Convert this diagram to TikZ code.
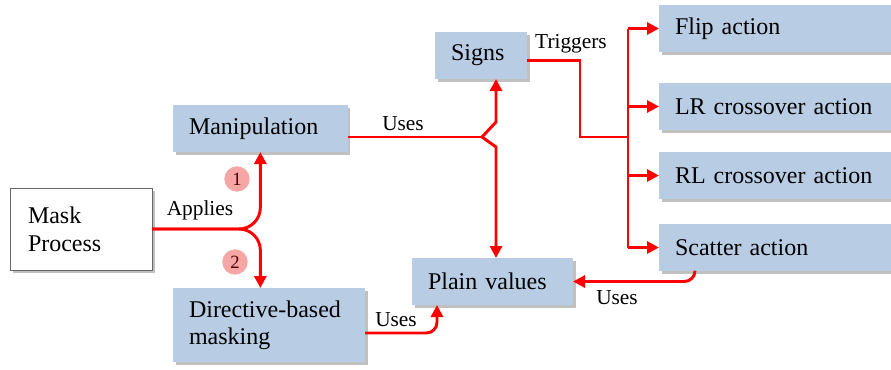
\documentclass[tikz,border=0pt]{standalone}
\usepackage{fontspec}
\setmainfont{Liberation Serif}
\usepackage{tikz}
\usetikzlibrary{arrows.meta, calc, shadows}

\definecolor{boxblue}{RGB}{184,204,228}
\definecolor{linkred}{RGB}{255,0,0}
\definecolor{stepink}{RGB}{247,166,166}

\begin{document}
\begin{tikzpicture}[x=0.75pt, y=-0.75pt,
    box/.style={fill=boxblue, anchor=north west, align=left, inner xsep=12pt,
      inner ysep=0pt, outer sep=0pt, minimum height=35.25pt, text width=#1,
      font=\fontsize{18}{21}\selectfont,
      drop shadow={shadow xshift=2pt, shadow yshift=-2.5pt, fill=black!45, opacity=0.55}},
    link/.style={draw=linkred, line width=2.2pt},
    arrow/.style={link, -{Triangle[length=9pt, width=9pt]}},
    tag/.style={font=\fontsize{16}{18}\selectfont, inner sep=1pt},
    stepnum/.style={circle, fill=stepink, minimum size=19pt, inner sep=0pt,
      text=red!30!black, font=\fontsize{14}{14}\selectfont}]

  \useasboundingbox (0,0) rectangle (891,369);

  % --- Boxes ---
  \node[box=79.5pt, fill=white, draw=black!60, thin, minimum height=61.5pt,
    inner xsep=13.5pt] (mask) at (10,188) {Mask\\Process};
  \node[box=107pt] (manip) at (173,105) {Manipulation};
  \node[box=120pt, minimum height=55.5pt, font=\fontsize{18}{20}\selectfont]
    (directive) at (173,288) {Directive-based\\masking};
  \node[box=45pt] (signs) at (435,32) {Signs};
  \node[box=96.75pt] (plain) at (412,258) {Plain values};
  \node[box=150pt] (flip) at (659,5) {Flip action};
  \node[box=150pt] (lr) at (659,83) {LR crossover action};
  \node[box=150pt] (rl) at (659,152) {RL crossover action};
  \node[box=150pt] (scatter) at (659,224) {Scatter action};

  % --- Step markers ---
  \node[stepnum] (one) at (237,179) {1};
  \node[stepnum] (two) at (235,262) {2};

  % --- Applies: split into the two kinds ---
  \draw[arrow, rounded corners=16pt] (mask.east) -| (manip.south);
  \draw[arrow, rounded corners=16pt] (mask.east) -| (manip.south |- directive.north);
  \node[tag] (applies) at (200,210) {Applies};

  % --- Uses: manipulation forks to signs and plain values ---
  \coordinate (fork) at (482,137);
  \draw[link] (manip.east |- fork) -- (fork);
  \draw[arrow] (fork) -- ++(14,-15) coordinate (forkup) -- (forkup |- signs.south);
  \draw[arrow] (fork) -- ++(14,10) coordinate (forkdn) -- (forkdn |- plain.north);
  \node[tag] (uses1) at (403,124) {Uses};

  % --- Triggers: signs to the actions ---
  \coordinate (bus) at (628,137);
  \draw[link] ($(signs.east)+(0,5)$) -| ($(bus)+(-48,0)$) -- (bus);
  \draw[link] (bus |- flip.west) -- (bus |- scatter.west);
  \foreach \act in {flip, lr, rl, scatter}
    \draw[arrow] (bus |- \act.west) -- (\act.west);
  \node[tag] (triggers) at (571,44) {Triggers};

  % --- Uses: scatter and directive masking to plain values ---
  \draw[arrow, rounded corners=8pt] ($(scatter.south west)+(36,0)$) |- (plain.east);
  \node[tag] (uses2) at (617,298) {Uses};
  \draw[arrow, rounded corners=8pt] ($(directive.east)+(0,8)$) -| ($(plain.south west)+(25,0)$);
  \node[tag] (uses3) at (396,320) {Uses};

\end{tikzpicture}
\end{document}
